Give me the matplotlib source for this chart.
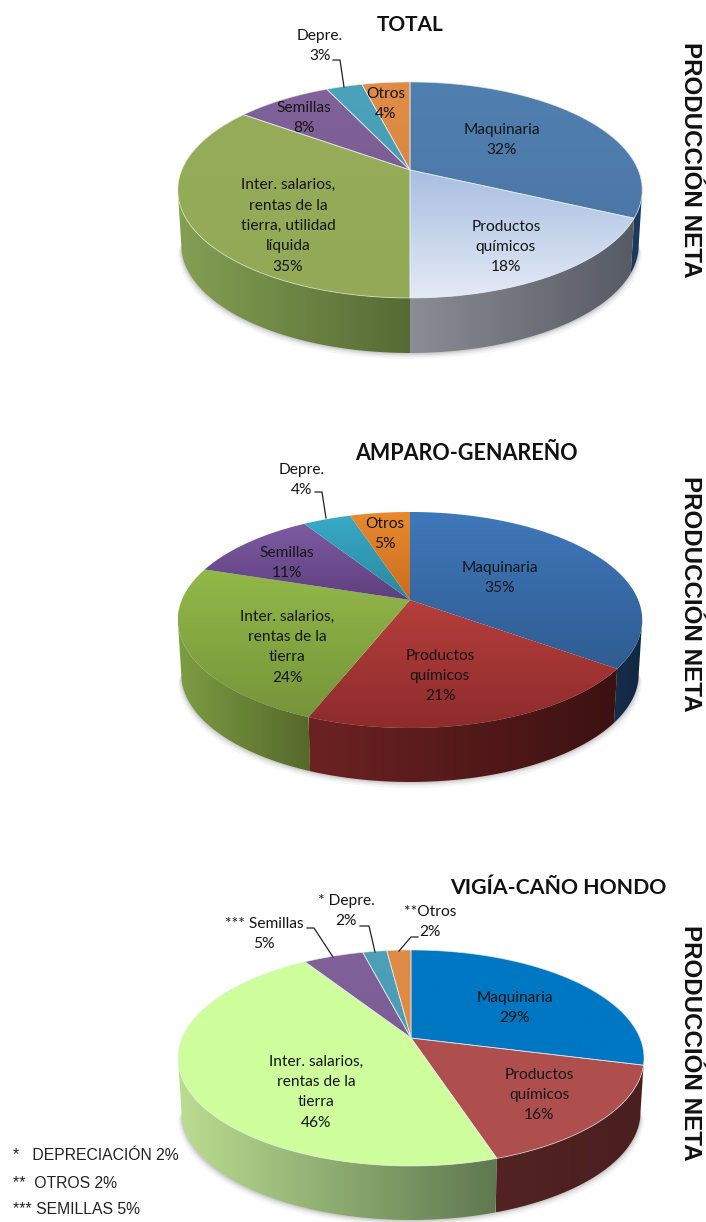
import numpy as np
import matplotlib
matplotlib.use('Agg')
import matplotlib.pyplot as plt
from matplotlib.patches import Polygon
from matplotlib.colors import to_rgb

W, H = 706, 1222

# values, clockwise from 12 o'clock
total_vals = [32, 18, 35, 8, 3, 4]
amparo_vals = [35, 21, 24, 11, 4, 5]
vigia_vals = [29, 16, 46, 5, 2, 2]

total_labels = ['Maquinaria\n32%', 'Productos\nquímicos\n18%',
                'Inter. salarios,\nrentas de la\ntierra, utilidad\nlíquida\n35%',
                'Semillas\n8%', 'Depre.\n3%', 'Otros\n4%']
amparo_labels = ['Maquinaria\n35%', 'Productos\nquímicos\n21%',
                 'Inter. salarios,\nrentas de la\ntierra\n24%',
                 'Semillas\n11%', 'Depre.\n4%', 'Otros\n5%']
vigia_labels = ['Maquinaria\n29%', 'Productos\nquímicos\n16%',
                'Inter. salarios,\nrentas de la\ntierra\n46%',
                '*** Semillas\n5%', '* Depre.\n2%', '**Otros\n2%']
notes = ['*   DEPRECIACIÓN 2%', '**  OTROS 2%', '*** SEMILLAS 5%']

# (top colour, bottom colour) of each slice
total_top = [('#5080b0', '#4c78a8'), ('#a8bee2', '#e4eaf6'), ('#95ad59', '#92aa56'),
             ('#80619a', '#7c5e94'), ('#4ba3bb', '#4a9cb4'), ('#e08c48', '#d98842')]
amparo_top = [('#3f78ba', '#2f5c92'), ('#b53f3c', '#8e2b2b'), ('#92b848', '#76953a'),
              ('#7d5ba2', '#5e3f7e'), ('#38aac8', '#2a889e'), ('#ea8a2e', '#c86e20')]
vigia_top = [('#0077c2', '#0077c2'), ('#ae4f4e', '#ae4f4e'), ('#ceff9c', '#ceff9c'),
             ('#80619a', '#7c5e94'), ('#4ca0b8', '#4c9cb4'), ('#dd8b45', '#dd8b45')]
# (left colour, right colour) of the rim of each slice
total_side = [('#1d3a5e', '#1d3a5e'), ('#8a8d95', '#565a64'), ('#84a053', '#566a34')] + [('#888888', '#888888')] * 3
amparo_side = [('#162d4c', '#12263f'), ('#6d2222', '#3c1111'), ('#7d9d42', '#55682a')] + [('#888888', '#888888')] * 3
vigia_side = [('#4f2120', '#4f2120'), ('#522322', '#4a1f1f'), ('#bade90', '#5f7850')] + [('#888888', '#888888')] * 3

plt.rcParams['font.family'] = ['Lato', 'DejaVu Sans']

fig = plt.figure(figsize=(W / 100, H / 100), dpi=100)
ax = fig.add_axes([0, 0, 1, 1])


def rim(theta, cx, cy, a, b, k=0.185):
    # perspective view of a flat disc, so the apex sits above the ellipse centre
    xx = np.sin(theta)
    yy = np.cos(theta)
    w = 1 + k * yy
    return cx + a * xx / w, cy - b * yy / w


def grad_fill(pts, c1, c2, vertical):
    pts = np.array(pts)
    patch = Polygon(pts, closed=True, fc='none', ec='none')
    ax.add_patch(patch)
    t = np.linspace(0, 1, 256)[:, None]
    rgb = (1 - t) * np.array(to_rgb(c1)) + t * np.array(to_rgb(c2))
    rgb = rgb[:, None, :] if vertical else rgb[None, :, :]
    x0, x1 = pts[:, 0].min(), pts[:, 0].max()
    y0, y1 = pts[:, 1].min(), pts[:, 1].max()
    im = ax.imshow(rgb, extent=(x0, x1, y1, y0), aspect='auto', origin='upper',
                   interpolation='bilinear', zorder=2)
    im.set_clip_path(patch)


def draw_pie(vals, tops, sides, cx, cy, a, b, depth, seam):
    edges = np.cumsum([0] + vals) / sum(vals) * 2 * np.pi
    k = 0.185
    vis0 = np.pi / 2 + np.arcsin(k)
    vis1 = 2 * np.pi - vis0
    shrink = 0.985
    # soft shadow under the pie
    th = np.linspace(vis0, vis1, 150)
    x, y = rim(th, cx, cy, a * shrink, b, k)
    for off, al in zip([6, 4, 2.5, 1.2], [0.05, 0.07, 0.09, 0.12]):
        shadow = np.column_stack([cx + (x - cx) * (1 + off / 400), y + depth + off])
        ax.add_patch(Polygon(shadow, closed=True, fc='#555555', ec='none', alpha=al, zorder=1))
    # rim first, then the top
    for i in range(len(vals)):
        s = max(edges[i], vis0)
        e = min(edges[i + 1], vis1)
        if e > s:
            th = np.linspace(s, e, 120)
            x1, y1 = rim(th, cx, cy, a, b, k)
            x2, y2 = rim(th[::-1], cx, cy, a * shrink, b, k)
            pts = np.column_stack([np.r_[x1, x2], np.r_[y1, y2 + depth]])
            grad_fill(pts, sides[i][0], sides[i][1], False)
    for i in range(len(vals)):
        th = np.linspace(edges[i], edges[i + 1], 200)
        x, y = rim(th, cx, cy, a, b, k)
        pts = np.column_stack([np.r_[cx, x], np.r_[cy, y]])
        grad_fill(pts, tops[i][0], tops[i][1], True)
        if seam:
            ax.add_patch(Polygon(pts, closed=True, fc='none', ec='#e8eef0', lw=0.6, alpha=0.7, zorder=3))


def put_labels(labels, spots):
    for lab, (x, y) in zip(labels, spots):
        ax.text(x, y, lab, ha='center', va='center', fontsize=11.2, color='#151515',
                linespacing=1.58, zorder=5)


def leader(xs, ys):
    ax.plot(xs, ys, color='#222222', lw=0.9, zorder=4)


def side_title(y):
    ax.text(690, y, 'PRODUCCIÓN NETA', rotation=-90, ha='center', va='center',
            fontsize=17.4, fontweight='bold', family='Liberation Sans', color='#111111')


draw_pie(total_vals, total_top, total_side, 410, 170, 228.2, 104.3, 55, True)
draw_pie(amparo_vals, amparo_top, amparo_side, 410, 600, 228.2, 104.3, 54, False)
draw_pie(vigia_vals, vigia_top, vigia_side, 411, 1038, 229, 104.3, 54, True)

put_labels(total_labels, [(502, 140), (506, 247), (288, 226), (304, 118), (320, 46), (386, 104)])
put_labels(amparo_labels, [(500, 578), (440, 676), (287, 647), (287, 563), (302, 480), (385, 534)])
put_labels(vigia_labels, [(515, 1008), (539, 1095), (316, 1092), (264, 934), (346, 911), (430, 922)])

leader([333, 340, 344], [60, 60, 87])
leader([315, 322, 326], [492, 492, 518])
leader([307, 314, 333], [928, 928, 957])
leader([360, 369, 375], [926, 926, 952])
leader([418, 411, 399], [937, 937, 951])

ax.text(410, 25, 'TOTAL', ha='center', va='center', fontsize=15, fontweight='bold', color='#111111')
ax.text(466, 453, 'AMPARO-GENAREÑO', ha='center', va='center', fontsize=15.5, fontweight='bold', color='#111111')
ax.text(558, 888, 'VIGÍA-CAÑO HONDO', ha='center', va='center', fontsize=15.3, fontweight='bold', color='#111111')

side_title(160)
side_title(594)
side_title(1043)

for note, y in zip(notes, [1156, 1183, 1210]):
    ax.text(13, y, note, ha='left', va='center', fontsize=11.3, family='Liberation Sans', color='#222222')

ax.set_xlim(0, W)
ax.set_ylim(H, 0)
ax.axis('off')
fig.savefig('out.png', dpi=100)
